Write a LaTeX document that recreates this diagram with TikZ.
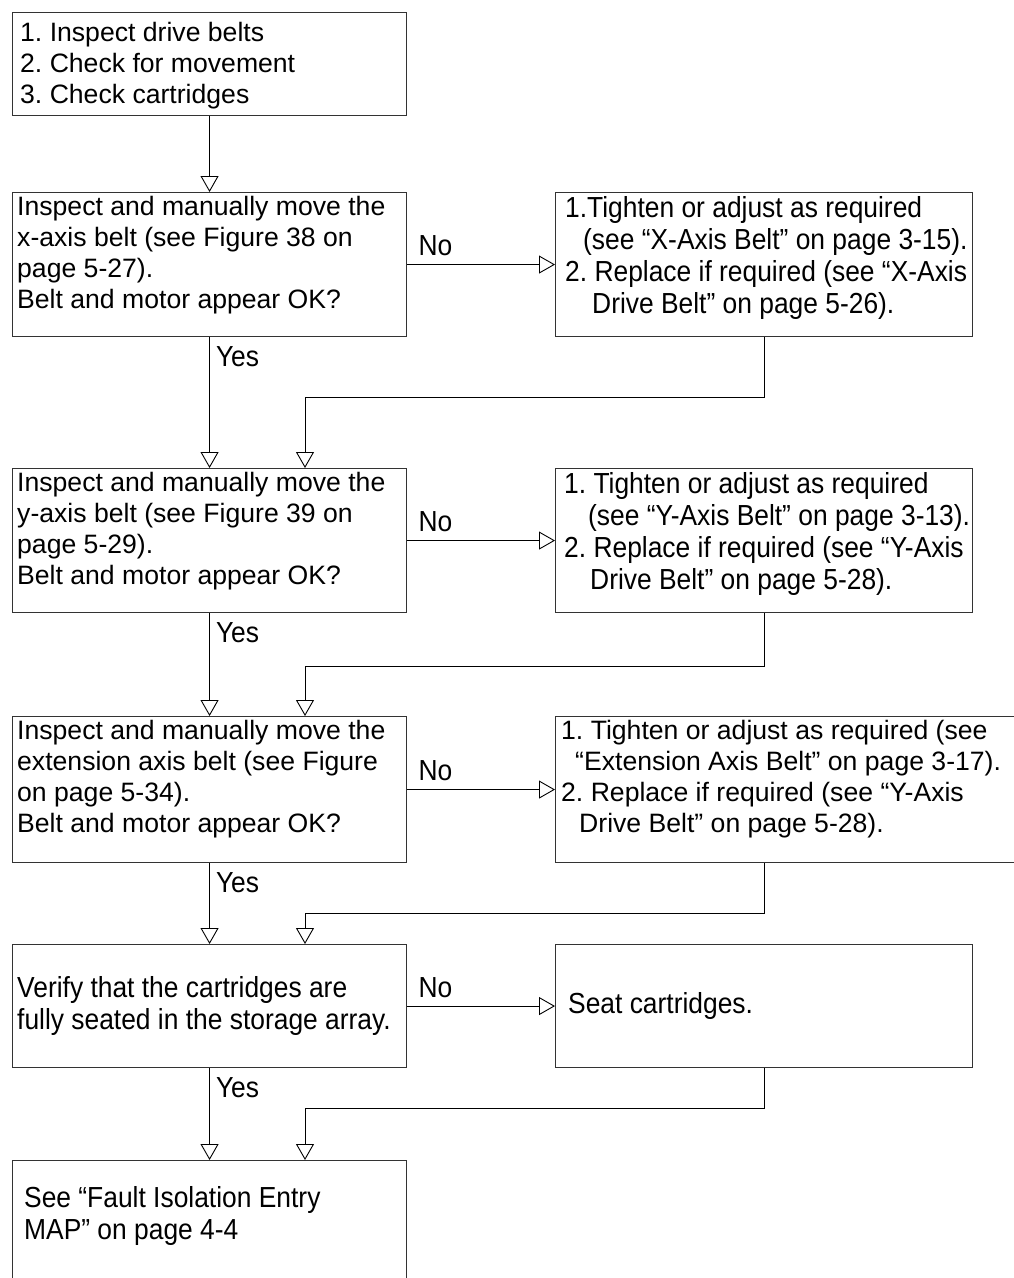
\documentclass[tikz,border=0pt]{standalone}
\usepackage{fontspec}
\setmainfont{Liberation Sans}
\newfontfamily\narrowfont[FakeStretch=0.91]{Liberation Sans}
\usetikzlibrary{arrows.meta,calc}
\tikzset{
  box/.style={draw=black!80, line width=1.1pt, rectangle, inner sep=0pt, anchor=north west},
  txt/.style={inner sep=0pt, anchor=north west, align=left, font=\frenchspacing\fontsize{26.6}{31}\selectfont},
  ntxt/.style={inner sep=0pt, anchor=north west, align=left, font=\frenchspacing\narrowfont\fontsize{29}{32}\selectfont},
  lbl/.style={inner sep=0pt, font=\narrowfont\fontsize{29}{32}\selectfont},
  flow/.style={draw=black, line width=0.9pt},
  arr/.style={flow, -{Triangle[open,length=16pt,width=18pt]}},
}

\begin{document}
\begin{tikzpicture}[x=1pt,y=-1pt]
  \useasboundingbox (0,0) rectangle (1014,1278);
  % left column
  \node[box, minimum width=394pt, minimum height=103pt] (start) at (12,12) {};
  \node[box, minimum width=394pt, minimum height=144pt] (xchk) at (12,192) {};
  \node[box, minimum width=394pt, minimum height=144pt] (ychk) at (12,468) {};
  \node[box, minimum width=394pt, minimum height=146pt] (echk) at (12,716) {};
  \node[box, minimum width=394pt, minimum height=123pt] (cchk) at (12,944) {};
  \node[box, minimum width=394pt, minimum height=150pt] (fim) at (12,1160) {};
  % right column
  \node[box, minimum width=417pt, minimum height=144pt] (xfix) at (555,192) {};
  \node[box, minimum width=417pt, minimum height=144pt] (yfix) at (555,468) {};
  \node[box, minimum width=465pt, minimum height=146pt] (efix) at (555,716) {};
  \node[box, minimum width=417pt, minimum height=123pt] (cfix) at (555,944) {};

  % texts
  \node[txt] at ($(start.north west)+(8,10)$) {1. Inspect drive belts\\2. Check for movement\\3. Check cartridges};
  \node[txt] at ($(xchk.north west)+(5,4)$) {Inspect and manually move the\\x-axis belt (see Figure 38 on\\page 5-27).\\Belt and motor appear OK?};
  \node[txt] at ($(ychk.north west)+(5,4)$) {Inspect and manually move the\\y-axis belt (see Figure 39 on\\page 5-29).\\Belt and motor appear OK?};
  \node[txt] at ($(echk.north west)+(5,4)$) {Inspect and manually move the\\extension axis belt (see Figure\\on page 5-34).\\Belt and motor appear OK?};
  \node[ntxt, anchor=west] at ($(cchk.west)+(5,0)$) {Verify that the cartridges are\\fully seated in the storage array.};
  \node[ntxt] at ($(fim.north west)+(12,26)$) {See “Fault Isolation Entry\\MAP” on page 4-4};
  \node[ntxt] at ($(xfix.north west)+(10,4)$) {1.Tighten or adjust as required\\\hspace*{18pt}(see “X-Axis Belt” on page 3-15).\\2. Replace if required (see “X-Axis\\\hspace*{27pt}Drive Belt” on page 5-26).};
  \node[ntxt] at ($(yfix.north west)+(9,4)$) {1. Tighten or adjust as required\\\hspace*{24pt}(see “Y-Axis Belt” on page 3-13).\\2. Replace if required (see “Y-Axis\\\hspace*{26pt}Drive Belt” on page 5-28).};
  \node[txt] at ($(efix.north west)+(6,4)$) {1. Tighten or adjust as required (see\\\hspace*{14pt}“Extension Axis Belt” on page 3-17).\\2. Replace if required (see “Y-Axis\\\hspace*{18pt}Drive Belt” on page 5-28).};
  \node[ntxt, anchor=west] at ($(cfix.west)+(13,0)$) {Seat cartridges.};

  % bends of the return lines
  \coordinate (b1) at (305,397);
  \coordinate (b2) at (305,666);
  \coordinate (b3) at (305,913);
  \coordinate (b4) at (305,1108);

  % connectors
  \draw[arr] (start.south) -- (xchk.north);
  \draw[arr] (xchk.east) -- node[lbl, pos=0, anchor=south west, xshift=11pt, yshift=8pt] {No} (xfix.west);
  \draw[arr] (ychk.east) -- node[lbl, pos=0, anchor=south west, xshift=11pt, yshift=8pt] {No} (yfix.west);
  \draw[arr] (echk.east) -- node[lbl, pos=0, anchor=south west, xshift=11pt, yshift=8pt] {No} (efix.west);
  \draw[arr] (cchk.east) -- node[lbl, pos=0, anchor=south west, xshift=11pt, yshift=8pt] {No} (cfix.west);

  \draw[arr] (xchk.south) -- node[lbl, pos=0, anchor=north west, xshift=6pt, yshift=-9pt] {Yes} (ychk.north);
  \draw[arr] (ychk.south) -- node[lbl, pos=0, anchor=north west, xshift=6pt, yshift=-9pt] {Yes} (echk.north);
  \draw[arr] (echk.south) -- node[lbl, pos=0, anchor=north west, xshift=6pt, yshift=-9pt] {Yes} (cchk.north);
  \draw[arr] (cchk.south) -- node[lbl, pos=0, anchor=north west, xshift=6pt, yshift=-9pt] {Yes} (fim.north);

  \draw[arr] (xfix.south) |- (b1) -- (b1 |- ychk.north);
  \draw[arr] (yfix.south) |- (b2) -- (b2 |- echk.north);
  \draw[arr] (efix.south -| yfix.south) |- (b3) -- (b3 |- cchk.north);
  \draw[arr] (cfix.south) |- (b4) -- (b4 |- fim.north);
\end{tikzpicture}
\end{document}
